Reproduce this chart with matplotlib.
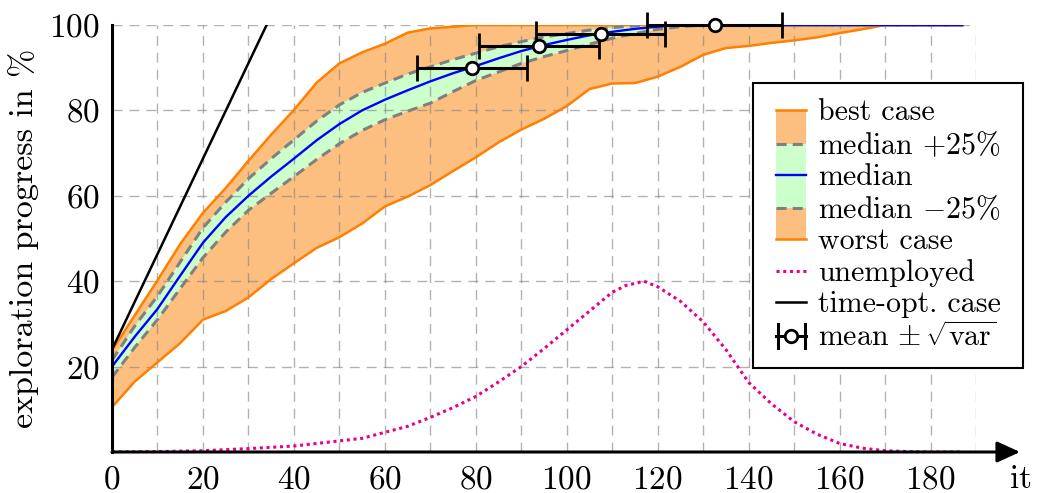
import matplotlib
matplotlib.use("Agg")
import matplotlib.pyplot as plt
from matplotlib.legend_handler import HandlerBase
from matplotlib.patches import Rectangle
from matplotlib.lines import Line2D

plt.rcParams.update({
    "font.family": "serif",
    "font.serif": ["cmr10"],
    "mathtext.fontset": "cm",
    "axes.formatter.use_mathtext": True,
    "font.size": 22,
})

# iteration axis shared by the band curves
it = [0, 5, 10, 15, 20, 25, 30, 35, 40, 45, 50, 55, 60, 65, 70, 75, 80, 85, 90,
      95, 100, 105, 110, 115, 120, 125, 130, 135, 140, 145, 150, 155, 160, 165,
      170, 175, 180, 185, 187]

best_case = [23.8, 32.0, 40.2, 48.7, 56.0, 61.8, 68.2, 74.3, 80.1, 86.5, 91.0,
             93.6, 95.6, 98.2, 99.2, 99.6, 100, 100, 100, 100, 100, 100, 100,
             100, 100, 100, 100, 100, 100, 100, 100, 100, 100, 100, 100, 100,
             100, 100, 100]
median_p25 = [21.5, 29.5, 36.5, 44.5, 52.5, 58.5, 64.0, 68.7, 73.1, 77.5, 81.3,
              84.2, 86.4, 88.5, 90.2, 91.9, 93.4, 94.9, 96.1, 97.2, 98.0, 98.8,
              99.4, 99.8, 100, 100, 100, 100, 100, 100, 100, 100, 100, 100, 100,
              100, 100, 100, 100]
median = [20.0, 27.0, 33.5, 41.3, 49.0, 55.0, 60.0, 64.5, 68.7, 73.0, 76.8,
          80.0, 82.5, 84.7, 86.8, 88.7, 90.4, 92.2, 93.9, 95.3, 96.5, 97.6,
          98.4, 99.1, 99.6, 100, 100, 100, 100, 100, 100, 100, 100, 100, 100,
          100, 100, 100, 100]
median_m25 = [17.5, 24.5, 31.0, 38.3, 45.5, 51.5, 56.6, 60.6, 64.5, 68.5, 72.2,
              75.3, 77.8, 79.8, 81.7, 84.4, 87.0, 89.0, 91.0, 92.6, 94.0, 95.5,
              96.9, 98.0, 99.0, 99.6, 100, 100, 100, 100, 100, 100, 100, 100,
              100, 100, 100, 100, 100]
worst_case = [10.5, 16.5, 21.0, 25.5, 31.0, 33.0, 36.2, 40.5, 44.2, 47.8, 50.3,
              53.5, 57.5, 59.8, 62.5, 65.8, 69.0, 72.5, 75.5, 78.0, 81.0, 85.0,
              86.3, 86.4, 87.9, 90.2, 93.0, 94.6, 95.1, 95.8, 96.4, 97.1, 98.1,
              99.0, 100, 100, 100, 100, 100]

# share of idle agents
unemp_it = [0, 10, 20, 30, 40, 45, 50, 55, 60, 65, 70, 75, 80, 85, 90, 95, 100,
            105, 110, 113, 117, 120, 125, 130, 135, 140, 145, 150, 155, 160,
            165, 170, 175, 180, 187]
unemployed = [0.0, 0.1, 0.3, 0.8, 1.4, 2.0, 2.6, 3.2, 4.6, 6.0, 8.1, 10.4, 13.0,
              16.4, 20.0, 24.2, 28.6, 33.0, 37.4, 39.0, 40.0, 38.7, 35.3, 30.5,
              24.0, 16.3, 11.3, 7.1, 4.2, 2.0, 0.9, 0.3, 0.1, 0.0, 0.0]

# time-optimal reference
opt_it = [0, 34]
opt_progress = [24, 100]

# iterations needed to reach a given progress: mean and standard deviation
mean_it = [79.2, 94.0, 107.5, 132.5]
mean_progress = [90, 95, 98, 100]
std_it = [12.1, 13.2, 14.2, 14.8]

x_ticks = [0, 20, 40, 60, 80, 100, 120, 140, 160, 180]
x_minor = [10, 30, 50, 70, 90, 110, 130, 150, 170, 190]
y_ticks = [20, 40, 60, 80, 100]

ORANGE = "#FF8000"
ORANGE_FILL = "#FDBF80"
GREEN_FILL = "#CCFFCC"
GRAY = "#808080"
BLUE = "#0000FF"
MAGENTA = "#E8008A"

AXIS_FS = 24
LEGEND_FS = 21.5

fig = plt.figure(figsize=(10.38, 4.93), dpi=100)
ax = fig.add_axes([112 / 1038, 41 / 493, 864 / 1038, 427 / 493])
ax.set_xlim(0, 190)
ax.set_ylim(0, 100)

ax.fill_between(it, worst_case, best_case, facecolor=ORANGE_FILL,
                edgecolor="none", zorder=1)
ax.fill_between(it, median_m25, median_p25, facecolor=GREEN_FILL,
                edgecolor="none", zorder=1.1)

ax.set_axisbelow("line")
ax.set_xticks(x_ticks)
ax.set_xticks(x_minor, minor=True)
ax.set_yticks(y_ticks)
grid_kw = dict(color=GRAY, alpha=0.6, linewidth=1.0, dashes=(7.2, 5.0))
ax.grid(True, which="major", axis="both", **grid_kw)
ax.grid(True, which="minor", axis="x", **grid_kw)
ax.tick_params(which="both", length=0, labelsize=AXIS_FS)
ax.tick_params(axis="x", pad=10)
ax.tick_params(axis="y", pad=9)

ax.plot(it, best_case, color=ORANGE, lw=1.8, zorder=2)
ax.plot(it, worst_case, color=ORANGE, lw=1.8, zorder=2)
ax.plot(it, median_p25, color=GRAY, lw=2.2, dashes=(3.3, 2.0), zorder=2.1)
ax.plot(it, median_m25, color=GRAY, lw=2.2, dashes=(3.3, 2.0), zorder=2.1)
ax.plot(it, median, color=BLUE, lw=1.7, zorder=2.2)
ax.plot(unemp_it, unemployed, color=MAGENTA, lw=2.2,
        linestyle=(0, (1.0, 1.2)), zorder=2.3)
ax.plot(opt_it, opt_progress, color="black", lw=1.8, zorder=2.4)
ax.errorbar(mean_it, mean_progress, xerr=std_it, fmt="o", color="black",
            mfc="white", mec="black", ms=9, mew=2.0, elinewidth=2.2,
            capsize=9.5, capthick=2.2, zorder=3, clip_on=False)

for side in ("top", "right", "bottom"):
    ax.spines[side].set_visible(False)
ax.spines["left"].set_linewidth(2.2)
ax.spines["left"].set_zorder(4)
ax.annotate("", xy=(1.051, 0), xytext=(0, 0), xycoords="axes fraction",
            textcoords="axes fraction", annotation_clip=False, zorder=4,
            arrowprops=dict(arrowstyle="-|>,head_length=0.7,head_width=0.32",
                            lw=2.2, color="black", shrinkA=0, shrinkB=0,
                            mutation_scale=20))
fig.text(1021 / 1038, 1 - 488 / 493, "it", ha="center", va="baseline",
         fontsize=AXIS_FS)

ax.set_ylabel("exploration progress in %", fontsize=24.5)
ax.yaxis.set_label_coords(-0.085, 0.5)


class StackHandler(HandlerBase):
    """Legend key drawn as a horizontal slice of the stacked band plot."""

    def __init__(self, above=None, below=None, line=None, errbar=False,
                 inset=0.0, half=12.5):
        super().__init__()
        self.above = above
        self.below = below
        self.line = line or {}
        self.errbar = errbar
        self.inset = inset
        self.half = half

    def create_artists(self, legend, orig_handle, xdescent, ydescent, width,
                       height, fontsize, trans):
        x0 = -xdescent + self.inset
        w = width - self.inset
        cy = (height - ydescent) / 2
        arts = []
        if self.above:
            arts.append(Rectangle((x0, cy), w, self.half, facecolor=self.above,
                                  edgecolor="none", transform=trans))
        if self.below:
            arts.append(Rectangle((x0, cy - self.half), w, self.half,
                                  facecolor=self.below, edgecolor="none",
                                  transform=trans))
        if self.errbar:
            arts.append(Line2D([x0, x0 + w], [cy, cy], color="black", lw=2.2,
                               transform=trans))
            for xc in (x0 + 1.0, x0 + w - 1.0):
                arts.append(Line2D([xc, xc], [cy - 8.5, cy + 8.5],
                                   color="black", lw=2.2, transform=trans))
            arts.append(Line2D([x0 + w / 2], [cy], marker="o", ms=9,
                               mfc="white", mec="black", mew=2.0,
                               transform=trans))
        elif self.line:
            arts.append(Line2D([x0, x0 + w], [cy, cy], transform=trans,
                               **self.line))
        return arts


INSET = 5.3
labels = ["best case", r"median $+25\%$", "median", r"median $-25\%$",
          "worst case", "unemployed", "time-opt. case",
          r"mean $\pm\,\sqrt{\mathrm{var}}$"]
handlers = [
    StackHandler(below=ORANGE_FILL, line=dict(color=ORANGE, lw=1.8), inset=INSET),
    StackHandler(above=ORANGE_FILL, below=GREEN_FILL,
                 line=dict(color=GRAY, lw=2.2, dashes=(3.3, 2.0)), inset=INSET),
    StackHandler(above=GREEN_FILL, below=GREEN_FILL,
                 line=dict(color=BLUE, lw=1.7), inset=INSET),
    StackHandler(above=GREEN_FILL, below=ORANGE_FILL,
                 line=dict(color=GRAY, lw=2.2, dashes=(3.3, 2.0)), inset=INSET),
    StackHandler(above=ORANGE_FILL, line=dict(color=ORANGE, lw=1.8), inset=INSET),
    StackHandler(line=dict(color=MAGENTA, lw=2.2, linestyle=(0, (1.0, 1.2))),
                 inset=INSET),
    StackHandler(line=dict(color="black", lw=1.8), inset=INSET),
    StackHandler(errbar=True, inset=INSET),
]
keys = [object() for _ in labels]
leg = fig.legend(keys, labels, handler_map=dict(zip(keys, handlers)),
                 loc="upper left", mode="expand",
                 bbox_to_anchor=(753 / 1038, 132 / 493, 270 / 1038, 278 / 493),
                 borderaxespad=0, borderpad=0.53, handlelength=1.254,
                 handleheight=0.7, handletextpad=0.4, labelspacing=0.13,
                 fontsize=LEGEND_FS, frameon=True, fancybox=False, framealpha=1,
                 edgecolor="black")
leg.get_frame().set_linewidth(1.5)

fig.savefig("out.png", dpi=100)
